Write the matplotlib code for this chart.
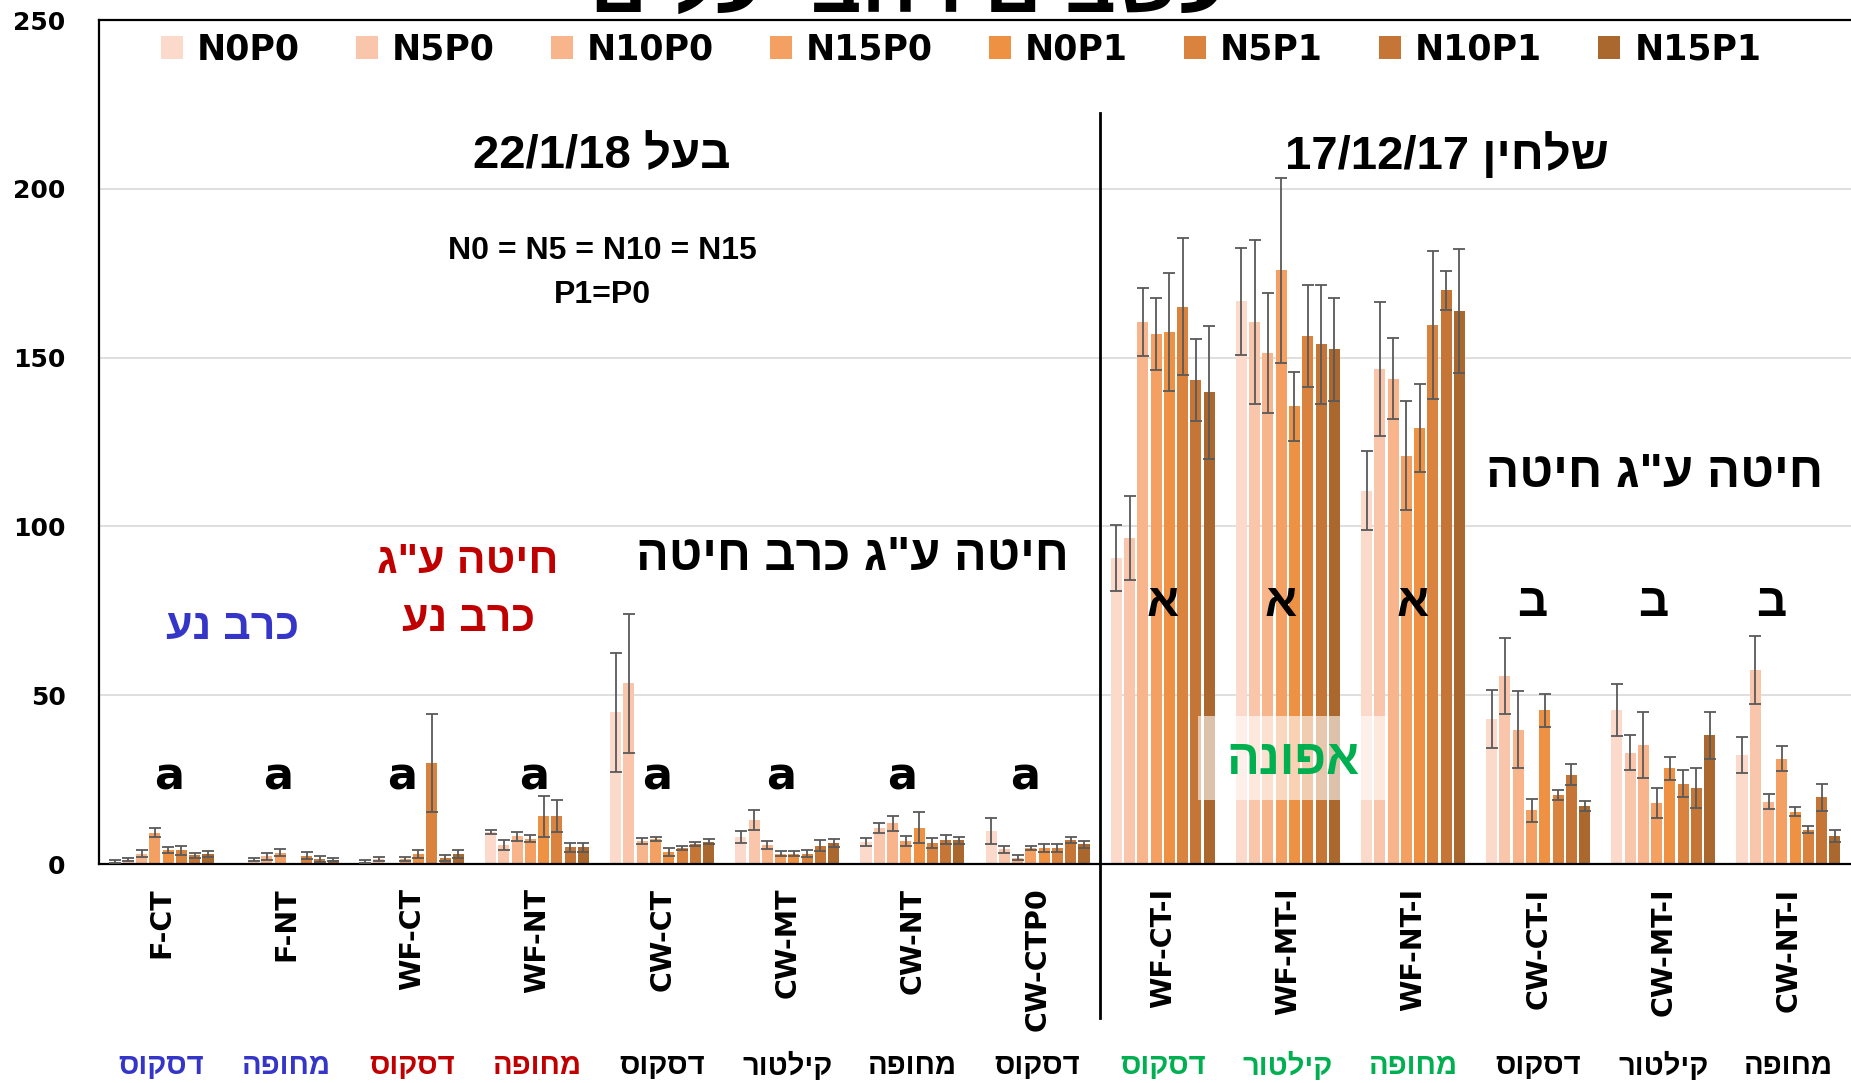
import matplotlib
matplotlib.use("Agg")
import matplotlib.pyplot as plt
import matplotlib.transforms as mtransforms
from matplotlib.patches import Rectangle, Patch
import numpy as np

plt.rcParams['font.family'] = ['DejaVu Sans']
plt.rcParams['font.weight'] = 'bold'

# ---------------- data ----------------
groups = ["F-CT", "F-NT", "WF-CT", "WF-NT", "CW-CT", "CW-MT", "CW-NT", "CW-CTP0",
          "WF-CT-I", "WF-MT-I", "WF-NT-I", "CW-CT-I", "CW-MT-I", "CW-NT-I"]
tillage = ["דסקוס", "מחופה", "דסקוס", "מחופה", "דסקוס", "קילטור", "מחופה", "דסקוס",
           "דסקוס", "קילטור", "מחופה", "דסקוס", "קילטור", "מחופה"]
tillage_colors = ["#3535C8", "#3535C8", "#C00000", "#C00000", "black", "black", "black", "black",
                  "#00B050", "#00B050", "#00B050", "black", "black", "black"]
series = ["N0P0", "N5P0", "N10P0", "N15P0", "N0P1", "N5P1", "N10P1", "N15P1"]
colors = ["#FBD9CB", "#F9C6AB", "#F8B48B", "#F5A063", "#EE9143", "#DA833F", "#C57535", "#AB682E"]

n0p0 = [0.7, 0, 0.7, 9.4, 44.9, 8.0, 6.5, 9.7, 90.6, 166.7, 110.5, 43.0, 45.5, 32.3]
n5p0 = [1.3, 1.3, 1.5, 5.7, 53.5, 13.0, 10.7, 4.3, 96.6, 160.6, 146.7, 55.6, 32.9, 57.5]
n10p0 = [3.0, 2.3, 0, 8.2, 6.8, 5.6, 12.0, 1.9, 160.6, 151.4, 143.8, 39.7, 35.2, 18.4]
n15p0 = [9.3, 3.3, 1.5, 7.5, 7.4, 3.1, 6.8, 4.8, 157.0, 175.8, 120.9, 15.9, 18.0, 31.2]
n0p1 = [4.2, 0, 3.0, 14.1, 3.6, 3.1, 10.8, 4.8, 157.7, 135.6, 129.1, 45.5, 28.3, 15.5]
n5p1 = [4.1, 2.5, 29.8, 14.3, 4.8, 3.1, 6.2, 4.8, 165.0, 156.4, 159.6, 20.5, 23.7, 10.2]
n10p1 = [2.6, 1.5, 1.8, 4.9, 6.0, 5.4, 7.2, 7.2, 143.4, 153.9, 169.9, 26.5, 22.5, 19.7]
n15p1 = [3.0, 1.3, 3.0, 4.9, 6.6, 6.2, 7.0, 5.8, 139.8, 152.4, 163.9, 17.2, 38.1, 8.3]

e_n0p0 = [0.5, 0, 0.5, 0.6, 17.7, 1.7, 1.2, 3.9, 9.7, 15.8, 11.7, 8.5, 7.7, 5.4]
e_n5p0 = [0.5, 0.5, 0.5, 1.5, 20.6, 3.0, 1.5, 1.0, 12.4, 24.2, 19.8, 11.3, 5.2, 10.0]
e_n10p0 = [1.0, 1.0, 0, 1.3, 1.0, 1.1, 2.3, 0.8, 10.0, 17.8, 11.9, 11.4, 9.7, 2.2]
e_n15p0 = [1.4, 1.0, 0.5, 1.0, 0.6, 0.7, 1.5, 0.6, 10.8, 27.5, 16.1, 3.5, 4.4, 3.7]
e_n0p1 = [0.9, 0, 1.2, 6.0, 1.1, 0.7, 4.5, 1.2, 17.5, 10.2, 13.1, 4.8, 3.3, 1.4]
e_n5p1 = [1.3, 1.0, 14.5, 4.8, 0.6, 1.0, 1.5, 1.2, 20.3, 15.0, 21.9, 1.5, 4.0, 1.1]
e_n10p1 = [0.8, 0.9, 1.0, 1.4, 0.6, 1.6, 1.4, 0.9, 12.2, 17.7, 5.8, 3.2, 5.8, 3.9]
e_n15p1 = [0.8, 0.5, 1.2, 1.4, 0.7, 1.1, 1.0, 1.0, 19.7, 15.3, 18.4, 1.4, 7.0, 1.7]

values = [n0p0, n5p0, n10p0, n15p0, n0p1, n5p1, n10p1, n15p1]
errors = [e_n0p0, e_n5p0, e_n10p0, e_n15p0, e_n0p1, e_n5p1, e_n10p1, e_n15p1]

yticks = [0, 50, 100, 150, 200, 250]
letters_left = ["a"] * 8
letters_right = ["א", "א", "א", "ב", "ב", "ב"]


def vis(s):
    """Hebrew logical order -> visual order (matplotlib draws left to right)."""
    return s[::-1]


HEB = ['Liberation Sans', 'DejaVu Sans']

# ---------------- figure ----------------
W, H = 1851, 1083
fig = plt.figure(figsize=(W / 100, H / 100), dpi=100)
ax = fig.add_axes([99 / W, 1 - 864 / H, 1 - 99 / W, (864 - 20) / H])

x = np.arange(len(groups))
step = 0.106
bw = 0.088
for k, (vals, errs, c, name) in enumerate(zip(values, errors, colors, series)):
    xs = x + (k - 3.5) * step
    v = np.array(vals, dtype=float)
    e = np.array(errs, dtype=float)
    ax.bar(xs, v, width=bw, color=c, label=name, zorder=2)
    m = v > 0
    ax.errorbar(xs[m], v[m], yerr=e[m], fmt='none', ecolor='#595959',
                elinewidth=1.3, capsize=4.5, capthick=1.3, zorder=3)

ax.set_xlim(-0.5, len(groups) - 0.5)
ax.set_ylim(0, 250)
ax.set_yticks(yticks)
ax.yaxis.grid(True, color='#D9D9D9', linewidth=1.2, zorder=0)
ax.set_axisbelow(True)
ax.tick_params(axis='y', length=0, pad=24, labelsize=18)
ax.set_xticks(x)
ax.set_xticklabels(groups, rotation=90, fontsize=20.5, fontweight='bold')
ax.tick_params(axis='x', length=0, pad=17)
for lab in ax.get_yticklabels():
    lab.set_fontweight('bold')
for sp in ['left', 'bottom', 'top']:
    ax.spines[sp].set_color('black')
    ax.spines[sp].set_linewidth(1.6)
ax.spines['right'].set_visible(False)

# divider between the two experiments
trans = mtransforms.blended_transform_factory(ax.transData, ax.transAxes)
ax.plot([7.5, 7.5], [(864 - 113) / 844, (864 - 1018) / 844], color='black',
        linewidth=2, transform=trans, clip_on=False, zorder=5)

# bottom tillage labels
for i, (t, c) in enumerate(zip(tillage, tillage_colors)):
    ax.text(i, (864 - 1066) / 844, vis(t), transform=trans, ha='center', va='center',
            fontsize=21, fontweight='bold', color=c, family=HEB)

# legend
handles = [Patch(facecolor=c, label=s) for c, s in zip(colors, series)]
ax.legend(handles=handles, loc='center', bbox_to_anchor=(0.492, 0.965), ncol=8,
          frameon=False, fontsize=25, handlelength=0.65, handleheight=0.65,
          handletextpad=0.4, columnspacing=1.6, borderaxespad=0)

# headers
ax.text(3.52, 209.8, "22/1/18 " + vis("בעל"), ha='center', va='center', fontsize=34,
        fontweight='bold', family=HEB)
ax.text(10.27, 209.8, "17/12/17 " + vis("שלחין"), ha='center', va='center', fontsize=34,
        fontweight='bold', family=HEB)
ax.text(3.52, 181.5, "N0 = N5 = N10 = N15", ha='center', va='center', fontsize=23,
        fontweight='bold', family=HEB)
ax.text(3.52, 168.6, "P1=P0", ha='center', va='center', fontsize=23,
        fontweight='bold', family=HEB)

ax.text(5.52, 90.9, vis('חיטה ע"ג כרב חיטה'), ha='center', va='center', fontsize=35,
        fontweight='bold', color='black', family=HEB)
ax.text(11.93, 115.4, vis('חיטה ע"ג חיטה'), ha='center', va='center', fontsize=35.5,
        fontweight='bold', color='black', family=HEB)
ax.text(2.45, 89.5, vis('חיטה ע"ג'), ha='center', va='center', fontsize=31,
        fontweight='bold', color='#C00000', family=HEB)
ax.text(2.45, 72.4, vis('כרב נע'), ha='center', va='center', fontsize=31,
        fontweight='bold', color='#C00000', family=HEB)
ax.text(0.57, 69.9, vis('כרב נע'), ha='center', va='center', fontsize=31,
        fontweight='bold', color='#3535C8', family=HEB)

# significance letters
left_x = [0.06, 0.93, 1.92, 2.98, 3.96, 4.95, 5.92, 6.9]
for xx, l in zip(left_x, letters_left):
    ax.text(xx, 25.9, l, ha='center', va='center', fontsize=32, fontweight='bold')
right_x = [8.0, 8.94, 10.0, 10.95, 11.92, 12.86]
for xx, l in zip(right_x, letters_right):
    ax.text(xx, 76.9, l, ha='center', va='center', fontsize=34, fontweight='bold', family=HEB)

# pea label with translucent box
ax.add_patch(Rectangle((8.28, 18.9), 1.51, 24.8, facecolor='white', alpha=0.6,
                       edgecolor='none', zorder=6))
ax.text(9.04, 30.4, vis("אפונה"), ha='center', va='center', fontsize=35,
        fontweight='bold', color='#00B050', zorder=7, family=HEB)

# clipped title at the very top
fig.text(909 / W, 1 - 12 / H, vis("עשבים רחבי עלים"), ha='center', va='baseline',
         fontsize=57, fontweight='bold', family=HEB)

fig.savefig("out.png", dpi=100)
